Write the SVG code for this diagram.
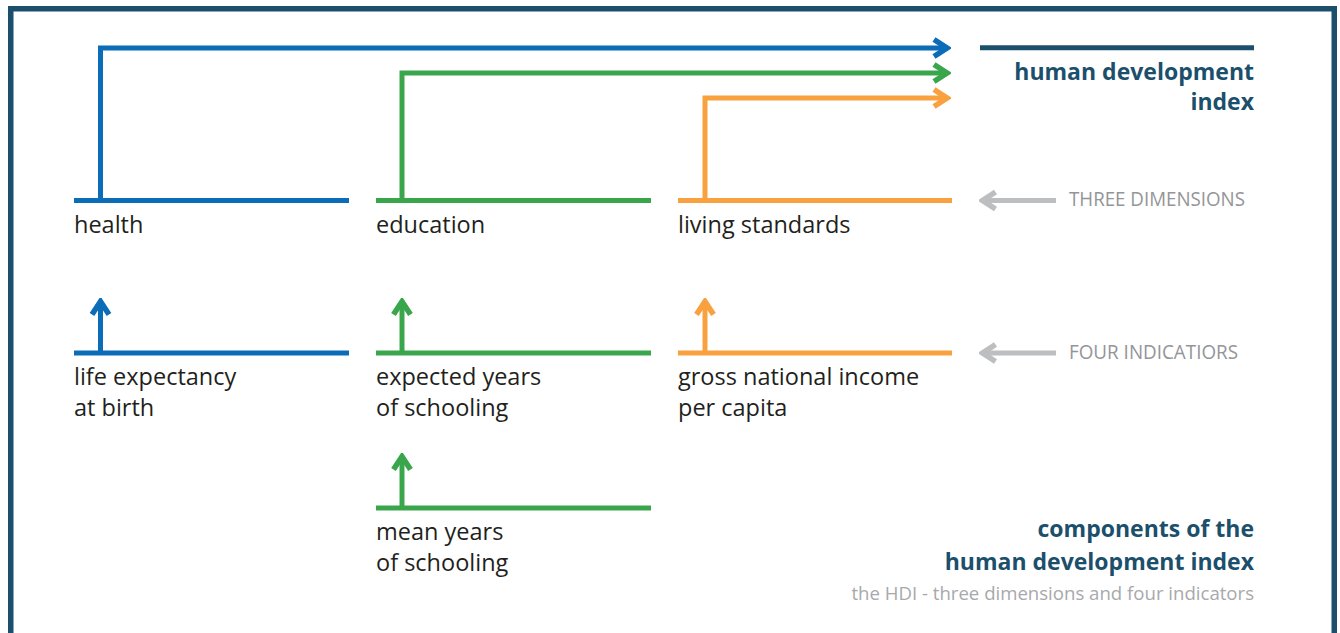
<svg xmlns="http://www.w3.org/2000/svg" width="1340" height="633" viewBox="0 0 1340 633">
<style>
  .lbl{font-family:"Open Sans","Liberation Sans",sans-serif;font-size:23.5px;fill:#231f20}
  .ttl{font-family:"Open Sans","Liberation Sans",sans-serif;font-size:23px;font-weight:bold;fill:#1b4f6c;text-anchor:end}
  .cap{font-family:"Open Sans","Liberation Sans",sans-serif;font-size:20.5px;fill:#939598}
  .sub{font-family:"Open Sans","Liberation Sans",sans-serif;font-size:18.6px;fill:#a7a9ac;text-anchor:end}
  .ln{stroke-width:5;fill:none}
  .blue{stroke:#0b6cb7}.green{stroke:#3aa64c}.orange{stroke:#f9a03f}.gray{stroke:#bcbec0}.dark{stroke:#1b4f6c}
</style>
<defs>
  <marker id="ab" viewBox="-16 -12 20 24" refX="0" refY="0" markerWidth="20" markerHeight="24" markerUnits="userSpaceOnUse" orient="auto"><path d="M-13,-8.5 L0,0 L-13,8.5" fill="none" stroke="#0b6cb7" stroke-width="5.5"/></marker>
  <marker id="ag" viewBox="-16 -12 20 24" refX="0" refY="0" markerWidth="20" markerHeight="24" markerUnits="userSpaceOnUse" orient="auto"><path d="M-13,-8.5 L0,0 L-13,8.5" fill="none" stroke="#3aa64c" stroke-width="5.5"/></marker>
  <marker id="ao" viewBox="-16 -12 20 24" refX="0" refY="0" markerWidth="20" markerHeight="24" markerUnits="userSpaceOnUse" orient="auto"><path d="M-13,-8.5 L0,0 L-13,8.5" fill="none" stroke="#f9a03f" stroke-width="5.5"/></marker>
  <marker id="ay" viewBox="-16 -12 20 24" refX="0" refY="0" markerWidth="20" markerHeight="24" markerUnits="userSpaceOnUse" orient="auto"><path d="M-13,-8.5 L0,0 L-13,8.5" fill="none" stroke="#bcbec0" stroke-width="5.5"/></marker>
</defs>
<rect width="1340" height="633" fill="#fff"/>
<rect x="10.75" y="8.75" width="1323.5" height="640" fill="none" stroke="#1b4f6c" stroke-width="5.5"/>

<g id="connectors">
  <path class="ln blue" d="M100.5,200.5 V48 H947" marker-end="url(#ab)"/>
  <path class="ln green" d="M402,200.5 V73 H947" marker-end="url(#ag)"/>
  <path class="ln orange" d="M705,200.5 V98 H947" marker-end="url(#ao)"/>
  <path class="ln blue" d="M100.5,353 V301.5" marker-end="url(#ab)"/>
  <path class="ln green" d="M402,353 V301.5" marker-end="url(#ag)"/>
  <path class="ln orange" d="M705,353 V301.5" marker-end="url(#ao)"/>
  <path class="ln green" d="M402,508 V456.5" marker-end="url(#ag)"/>
  <path class="ln gray" d="M1056,200.5 H982.5" marker-end="url(#ay)"/>
  <path class="ln gray" d="M1056,353 H982.5" marker-end="url(#ay)"/>
</g>

<g id="hdi">
  <line class="ln dark" x1="980" y1="47.8" x2="1254" y2="47.8"/>
  <text class="ttl" x="1254" y="80">human development</text>
  <text class="ttl" x="1254" y="110">index</text>
</g>

<g id="health">
  <line class="ln blue" x1="74" y1="200.5" x2="349" y2="200.5"/>
  <text class="lbl" x="74" y="233">health</text>
</g>
<g id="education">
  <line class="ln green" x1="376" y1="200.5" x2="651" y2="200.5"/>
  <text class="lbl" x="376" y="233">education</text>
</g>
<g id="living-standards">
  <line class="ln orange" x1="678" y1="200.5" x2="952" y2="200.5"/>
  <text class="lbl" x="678" y="233">living standards</text>
</g>

<g id="life-expectancy">
  <line class="ln blue" x1="74" y1="353" x2="349" y2="353"/>
  <text class="lbl" x="74" y="385">life expectancy</text>
  <text class="lbl" x="74" y="416">at birth</text>
</g>
<g id="expected-years">
  <line class="ln green" x1="376" y1="353" x2="651" y2="353"/>
  <text class="lbl" x="376" y="385">expected years</text>
  <text class="lbl" x="376" y="416">of schooling</text>
</g>
<g id="gni">
  <line class="ln orange" x1="678" y1="353" x2="952" y2="353"/>
  <text class="lbl" x="678" y="385">gross national income</text>
  <text class="lbl" x="678" y="416">per capita</text>
</g>
<g id="mean-years">
  <line class="ln green" x1="376" y1="508" x2="651" y2="508"/>
  <text class="lbl" x="376" y="540">mean years</text>
  <text class="lbl" x="376" y="571">of schooling</text>
</g>

<g id="three-dimensions">
  <text class="cap" x="1069" y="206" textLength="176" lengthAdjust="spacingAndGlyphs">THREE DIMENSIONS</text>
</g>
<g id="four-indicators">
  <text class="cap" x="1069" y="359" textLength="169" lengthAdjust="spacingAndGlyphs">FOUR INDICATIORS</text>
</g>

<g id="caption">
  <text class="ttl" x="1254" y="537">components of the</text>
  <text class="ttl" x="1254" y="570">human development index</text>
  <text class="sub" x="1254" y="600">the HDI - three dimensions and four indicators</text>
</g>
</svg>
